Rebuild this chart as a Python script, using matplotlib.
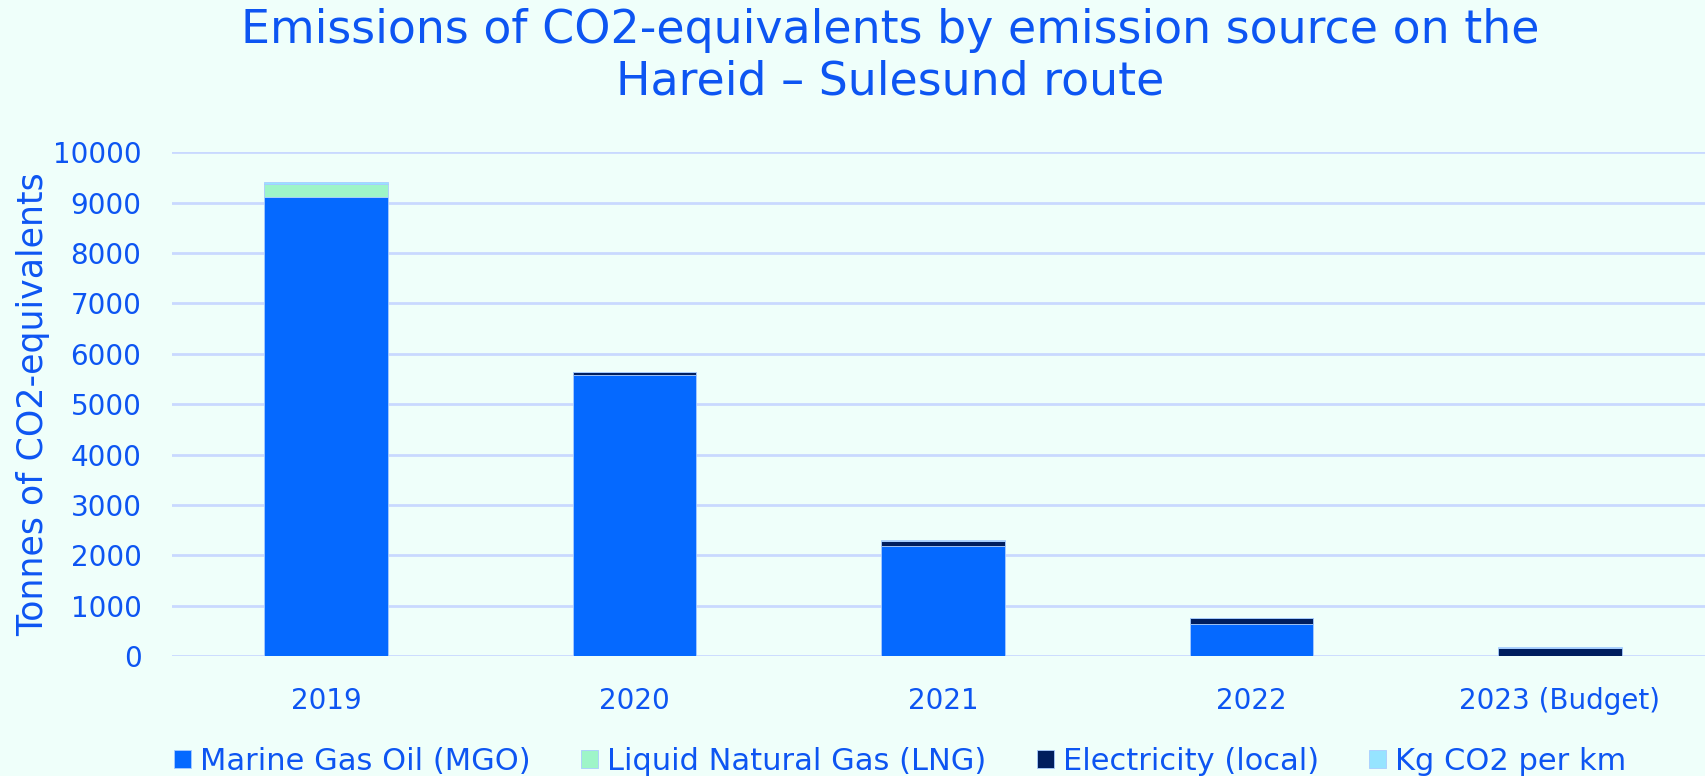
import matplotlib
matplotlib.use("Agg")
import matplotlib.pyplot as plt
import numpy as np

years = ['2019', '2020', '2021', '2022', '2023 (Budget)']
mgo = [9110, 5580, 2190, 630, 10]
lng = [270, 0, 0, 0, 0]
electricity = [0, 50, 100, 120, 155]
kg_per_km = [40, 15, 15, 10, 5]

series = ['Marine Gas Oil (MGO)', 'Liquid Natural Gas (LNG)',
          'Electricity (local)', 'Kg CO2 per km']
colors = ['#0569FF', '#9EF5C8', '#001E5E', '#96E4FF']

bg = '#EFFFFA'
txt = '#0D55F2'
grid = '#C9D9FF'

plt.rcParams['font.family'] = ['DejaVu Sans']

fig = plt.figure(figsize=(17.06, 7.76), dpi=100, facecolor=bg)
ax = fig.add_axes([0.1008, 0.1546, 0.904, 0.649])
ax.set_facecolor(bg)

x = np.arange(len(years))
bottom = np.zeros(len(years))
handles = []
for name, vals, c in zip(series, [mgo, lng, electricity, kg_per_km], colors):
    b = ax.bar(x, vals, 0.4, bottom=bottom, color=c, edgecolor='#A8CCFF',
               linewidth=0.6, label=name, zorder=3)
    handles.append(b)
    bottom += np.array(vals)

ax.set_xlim(-0.5, 4.5)
ax.set_ylim(0, 10000)
ax.set_yticks(np.arange(0, 10001, 1000))
ax.yaxis.grid(True, color=grid, linewidth=2, zorder=0)
ax.set_axisbelow(True)
for s in ax.spines.values():
    s.set_visible(False)
ax.tick_params(axis='both', length=0, colors=txt, labelsize=20)
ax.tick_params(axis='y', pad=22)
ax.tick_params(axis='x', pad=22)
ax.set_xticks(x)
ax.set_xticklabels(years)
ax.set_ylabel('Tonnes of CO2-equivalents', color=txt, fontsize=25)
ax.yaxis.set_label_coords(-0.079, 0.5)

fig.text(0.522, 0.99, 'Emissions of CO2-equivalents by emission source on the\nHareid \u2013 Sulesund route',
         ha='center', va='top', color=txt, fontsize=33, linespacing=1.2)

leg = fig.legend(handles=handles, loc='lower left', bbox_to_anchor=(0.086, -0.035),
                 ncol=4, frameon=False, fontsize=22, handlelength=0.55, handleheight=0.55,
                 columnspacing=1.65, handletextpad=0.3)
for t in leg.get_texts():
    t.set_color(txt)

fig.savefig('out.png', dpi=100, facecolor=bg)
